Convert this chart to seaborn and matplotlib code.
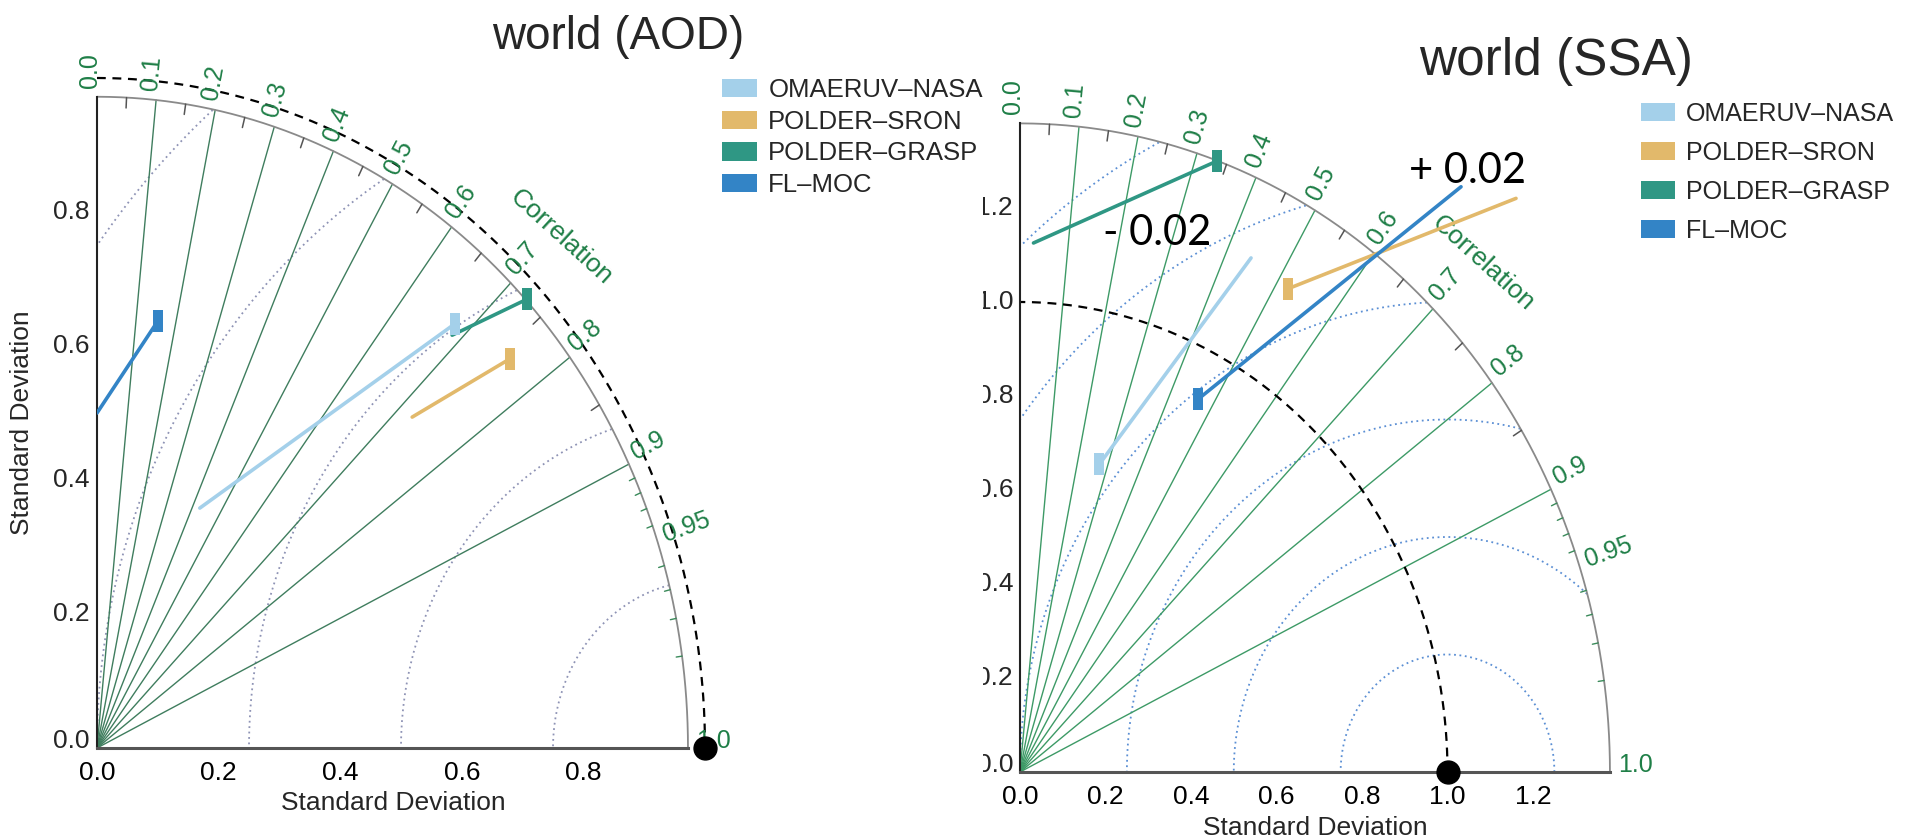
import numpy as np
import pandas as pd
import matplotlib
matplotlib.use("Agg")
import matplotlib.pyplot as plt
from matplotlib.patches import Patch
from matplotlib.markers import MarkerStyle
from matplotlib.transforms import Bbox, TransformedBbox, offset_copy
import seaborn as sns

W, H, DPI = 1905, 840, 100

# ---------------- data ----------------
series = ["OMAERUV-NASA", "POLDER-SRON", "POLDER-GRASP", "FL-MOC"]
legend_labels = ["OMAERUV–NASA", "POLDER–SRON", "POLDER–GRASP", "FL–MOC"]
series_colors = ["#a4d0ea", "#e2b96b", "#2f9784", "#3384c6"]

# world (AOD): (standard deviation, correlation) at the marker and at the other end of each line
aod_marker_std = [0.865, 0.894, 0.974, 0.645]
aod_marker_corr = [0.681, 0.760, 0.726, 0.155]
aod_end_std = [0.396, 0.716, 0.849, 0.500]
aod_end_corr = [0.427, 0.724, 0.688, 0.000]

# world (SSA)
ssa_marker_std = [0.681, 1.205, 1.379, 0.896]
ssa_marker_corr = [0.273, 0.521, 0.334, 0.465]
ssa_end_std = [1.220, 1.684, 1.126, 1.617]
ssa_end_corr = [0.443, 0.689, 0.028, 0.638]

ref_std = 1.0
aod_rmax = 0.972
ssa_rmax = 1.38
aod_sd_ticks = [0.0, 0.2, 0.4, 0.6, 0.8]
ssa_sd_ticks = [0.0, 0.2, 0.4, 0.6, 0.8, 1.0, 1.2]
corr_line_values = [0.1, 0.2, 0.3, 0.4, 0.5, 0.6, 0.7, 0.8, 0.9]
corr_label_values = [0.0, 0.1, 0.2, 0.3, 0.4, 0.5, 0.6, 0.7, 0.8, 0.9, 0.95, 1.0]
corr_label_texts = ["0.0", "0.1", "0.2", "0.3", "0.4", "0.5", "0.6", "0.7",
                    "0.8", "0.9", "0.95", "1.0"]
rim_tick_values = [0.05, 0.15, 0.25, 0.35, 0.45, 0.55, 0.65, 0.75, 0.85]
rim_fine_values = [0.91, 0.92, 0.93, 0.94, 0.96, 0.97, 0.98, 0.99]
rms_radii = [0.25, 0.5, 0.75, 1.0, 1.25, 1.5]
annot_texts = ["- 0.02", "+ 0.02"]
annot_pos = [(0.194, 1.122), (0.910, 1.253)]

GREEN = "#1f7f47"

sns.set_theme(style="white")
plt.rcParams["font.family"] = ["Liberation Sans", "DejaVu Sans"]

fig = plt.figure(figsize=(W / DPI, H / DPI), dpi=DPI)
fig.patch.set_facecolor("white")

palette = dict(zip(series, series_colors))
rect_marker = MarkerStyle([(-0.5, -1.1), (0.5, -1.1), (0.5, 1.1), (-0.5, 1.1), (-0.5, -1.1)])


def seg_frame(m_std, m_corr, e_std, e_corr):
    rows = []
    for i, name in enumerate(series):
        for kind, r, c in (("marker", m_std[i], m_corr[i]), ("end", e_std[i], e_corr[i])):
            rows.append(dict(series=name, kind=kind,
                             x=r * c, y=r * np.sqrt(max(0.0, 1 - c ** 2))))
    return pd.DataFrame(rows)


def draw_panel(origin, sx, sy, lim, rmax, sd_ticks, m_std, m_corr, e_std, e_corr,
               radial_color, dotted_color, ylabel_clip_x=None):
    x0, y0 = origin
    ax = fig.add_axes([x0 / W, (H - y0) / H, sx * lim / W, sy * lim / H])
    ax.set_xlim(0, lim)
    ax.set_ylim(0, lim)
    ax.patch.set_alpha(0)
    ax.grid(False)
    ax.spines["top"].set_visible(False)
    ax.spines["right"].set_visible(False)
    ax.spines["left"].set_bounds(0, rmax)
    ax.spines["bottom"].set_bounds(0, rmax)
    ax.spines["left"].set_color("#222222")
    ax.spines["left"].set_linewidth(1.5)
    ax.spines["bottom"].set_color("#555555")
    ax.spines["bottom"].set_linewidth(2.2)
    minor = np.arange(0, rmax + 1e-9, 0.05)
    ax.set_xticks(sd_ticks)
    ax.set_xticklabels([f"{v:.1f}" for v in sd_ticks])
    ax.set_yticks(sd_ticks)
    ax.set_xticks(minor, minor=True)
    ax.set_yticks(minor, minor=True)
    ax.tick_params(which="major", direction="in", length=9, width=1.2,
                   color="#333333", labelsize=19, labelcolor="black")
    ax.tick_params(which="minor", direction="in", length=4.5, width=1.0, color="#333333")
    ax.tick_params(axis="x", pad=9)
    ax.tick_params(axis="y", labelleft=False)

    # y tick labels (the zero label sits on the axis line; optional clipping at the left)
    ytrans = offset_copy(ax.transData, fig=fig, x=-7, y=0, units="dots")
    for v in sd_ticks:
        tt = ax.text(0, v, f"{v:.1f}", transform=ytrans, ha="right",
                     va="baseline" if v == 0 else "center", fontsize=19)
        if ylabel_clip_x is not None:
            tt.set_clip_box(TransformedBbox(Bbox.from_extents(ylabel_clip_x / W, 0, 1, 1),
                                            fig.transFigure))
            tt.set_clip_on(True)

    # centred RMS-difference arcs
    t = np.linspace(0, np.pi, 1441)
    for rho in rms_radii:
        cx = ref_std + rho * np.cos(t)
        cy = rho * np.sin(t)
        keep = (cx >= 0) & (np.hypot(cx, cy) <= rmax)
        ax.plot(np.where(keep, cx, np.nan), np.where(keep, cy, np.nan),
                color=dotted_color, lw=1.3, ls=(0, (1, 2)), zorder=1)

    # correlation rays
    for c in corr_line_values:
        th = np.arccos(c)
        ax.plot([0, rmax * np.cos(th)], [0, rmax * np.sin(th)],
                color=radial_color, lw=1.0, zorder=1)

    # outer rim and its ticks
    th = np.linspace(0, np.pi / 2, 500)
    ax.plot(rmax * np.cos(th), rmax * np.sin(th), color="#8a8a8a", lw=1.3, zorder=2)
    for c in rim_tick_values:
        a = np.arccos(c)
        ax.plot([rmax * np.cos(a), rmax * 0.984 * np.cos(a)],
                [rmax * np.sin(a), rmax * 0.984 * np.sin(a)], color="#555555", lw=1.1)
    for c in rim_fine_values:
        a = np.arccos(c)
        ax.plot([rmax * np.cos(a), rmax * 0.99 * np.cos(a)],
                [rmax * np.sin(a), rmax * 0.99 * np.sin(a)], color="#3a8a5a", lw=1.0)

    # reference standard deviation arc
    ax.plot(ref_std * np.cos(th), ref_std * np.sin(th), color="black", lw=1.6,
            ls=(0, (4, 3)), clip_on=False, zorder=2)

    # correlation labels
    for c, txt in zip(corr_label_values, corr_label_texts):
        a = np.arccos(c)
        rot = np.degrees(np.arctan2(sy * np.sin(a), sx * np.cos(a)))
        ax.text(rmax * 1.014 * np.cos(a), rmax * 1.014 * np.sin(a), txt, rotation=rot,
                rotation_mode="anchor", ha="left", va="baseline", color=GREEN,
                fontsize=18, clip_on=False, zorder=3)
    a = np.pi / 4
    rot = np.degrees(np.arctan2(sy * np.sin(a), sx * np.cos(a))) - 90
    ax.text(rmax * 1.11 * np.cos(a), rmax * 1.11 * np.sin(a), "Correlation",
            rotation=rot, rotation_mode="anchor", ha="center", va="center",
            color=GREEN, fontsize=19, clip_on=False)

    # data
    df = seg_frame(m_std, m_corr, e_std, e_corr)
    sns.lineplot(data=df, x="x", y="y", hue="series", palette=palette, sort=False,
                 estimator=None, lw=2.6, legend=False, ax=ax, zorder=4)
    sns.scatterplot(data=df[df["kind"] == "marker"], x="x", y="y", hue="series",
                    palette=palette, marker=rect_marker, s=250, linewidth=0,
                    edgecolor="none", legend=False, ax=ax, zorder=5, clip_on=False)
    ax.plot([ref_std], [0], marker="o", ms=16.5, color="black", ls="none",
            clip_on=False, zorder=10)
    ax.set_xlabel("")
    ax.set_ylabel("")
    return ax


# ---------------- left panel: AOD ----------------
axL = draw_panel((97, 748), 608, 670, 1.05, aod_rmax, aod_sd_ticks,
                 aod_marker_std, aod_marker_corr, aod_end_std, aod_end_corr,
                 radial_color="#3f7d5e", dotted_color="#8e93b5")
axL.text(-75 / (608 * 1.05), (748 - 423) / (670 * 1.05), "Standard Deviation",
         transform=axL.transAxes, rotation=90, ha="center", va="center", fontsize=19)
axL.text((393 - 97) / (608 * 1.05), (748 - 803) / (670 * 1.05), "Standard Deviation",
         transform=axL.transAxes, ha="center", va="center", fontsize=19)

# ---------------- right panel: SSA ----------------
axR = draw_panel((1020, 772), 427.5, 470, 1.45, ssa_rmax, ssa_sd_ticks,
                 ssa_marker_std, ssa_marker_corr, ssa_end_std, ssa_end_corr,
                 radial_color="#3d9a66", dotted_color="#5b8fd4", ylabel_clip_x=983)
axR.text((1315 - 1020) / (427.5 * 1.45), (772 - 828) / (470 * 1.45), "Standard Deviation",
         transform=axR.transAxes, ha="center", va="center", fontsize=19)

for txt, (xx, yy) in zip(annot_texts, annot_pos):
    axR.text(xx, yy, txt, ha="left", va="baseline", fontsize=30,
             family=["Lato", "DejaVu Sans"], color="black", zorder=12)

# ---------------- titles ----------------
fig.text(618 / W, 1 - 37 / H, "world (AOD)", ha="center", va="center", fontsize=33)
fig.text(1556 / W, 1 - 62 / H, "world (SSA)", ha="center", va="center", fontsize=37)

# ---------------- legends ----------------
handles = [Patch(facecolor=c, edgecolor="none") for c in series_colors]
for (lx, ly, fs, sp) in [(722, 78, 18.5, 0.3), (1641, 102, 18.0, 0.6)]:
    fig.legend(handles, legend_labels, loc="upper left",
               bbox_to_anchor=(lx / W, 1 - ly / H), bbox_transform=fig.transFigure,
               frameon=False, borderpad=0, borderaxespad=0, handlelength=1.35,
               handleheight=0.72, handletextpad=0.45, labelspacing=sp, fontsize=fs)

fig.savefig("out.png", dpi=DPI, facecolor="white")
